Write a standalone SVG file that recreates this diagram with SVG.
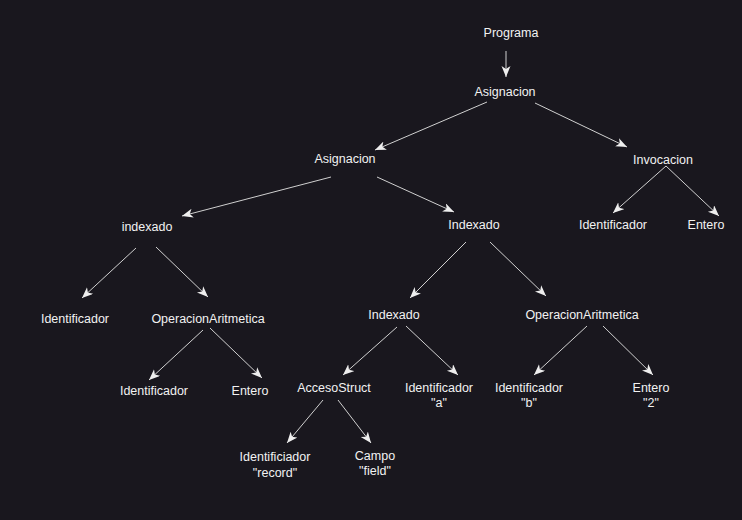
<svg xmlns="http://www.w3.org/2000/svg" width="742" height="520" viewBox="0 0 742 520">
<style>
text{font-family:"Liberation Sans",Arial,sans-serif;font-size:12.5px;fill:#f2f2f2;text-anchor:middle;dominant-baseline:central}
.e line{stroke:#d0d0d0;stroke-width:1;marker-end:url(#a)}
</style>
<defs>
<marker id="a" markerUnits="userSpaceOnUse" markerWidth="12" markerHeight="10" refX="11" refY="4.5" orient="auto">
<path d="M0,0 L11,4.5 L0,9 L3,4.5 z" fill="#eeeeee"/>
</marker>
</defs>
<rect width="742" height="520" fill="#19171e"/>
<g class="e" id="edges">
<line x1="506" y1="51" x2="506" y2="77"/>
<line x1="487" y1="102" x2="375" y2="150"/>
<line x1="535" y1="103" x2="627" y2="147"/>
<line x1="666" y1="166" x2="613" y2="213"/>
<line x1="666" y1="166" x2="719" y2="216"/>
<line x1="331" y1="177" x2="182" y2="216"/>
<line x1="377" y1="177" x2="454" y2="212"/>
<line x1="136" y1="248" x2="82" y2="298"/>
<line x1="156" y1="247" x2="208" y2="297"/>
<line x1="203" y1="330" x2="149" y2="380"/>
<line x1="210" y1="328" x2="262" y2="378"/>
<line x1="466" y1="242" x2="410" y2="298"/>
<line x1="490" y1="242" x2="546" y2="296"/>
<line x1="397" y1="327" x2="343" y2="375"/>
<line x1="406" y1="326" x2="458" y2="375"/>
<line x1="323" y1="400" x2="287" y2="443"/>
<line x1="338" y1="400" x2="371" y2="443"/>
<line x1="587" y1="326" x2="534" y2="375"/>
<line x1="603" y1="326" x2="653" y2="375"/>
</g>
<g id="n1"><text x="511" y="33">Programa</text></g>
<g id="n2"><text x="505" y="92">Asignacion</text></g>
<g id="n3"><text x="345" y="159">Asignacion</text></g>
<g id="n4"><text x="663" y="160">Invocacion</text></g>
<g id="n5"><text x="613" y="225">Identificador</text></g>
<g id="n6"><text x="706" y="225">Entero</text></g>
<g id="n7"><text x="147" y="227">indexado</text></g>
<g id="n8"><text x="474" y="225">Indexado</text></g>
<g id="n9"><text x="75" y="319">Identificador</text></g>
<g id="n10"><text x="208" y="319">OperacionAritmetica</text></g>
<g id="n11"><text x="154" y="391">Identificador</text></g>
<g id="n12"><text x="250" y="391">Entero</text></g>
<g id="n13"><text x="394" y="315">Indexado</text></g>
<g id="n14"><text x="582" y="315">OperacionAritmetica</text></g>
<g id="n15"><text x="334" y="388">AccesoStruct</text></g>
<g id="n16"><text x="439" y="388">Identificador</text><text x="439" y="403">"a"</text></g>
<g id="n17"><text x="275" y="457">Identificiador</text><text x="275" y="473">"record"</text></g>
<g id="n18"><text x="375" y="456">Campo</text><text x="375" y="471">"field"</text></g>
<g id="n19"><text x="529" y="388">Identificador</text><text x="529" y="403">"b"</text></g>
<g id="n20"><text x="651" y="388">Entero</text><text x="651" y="403">"2"</text></g>
</svg>
